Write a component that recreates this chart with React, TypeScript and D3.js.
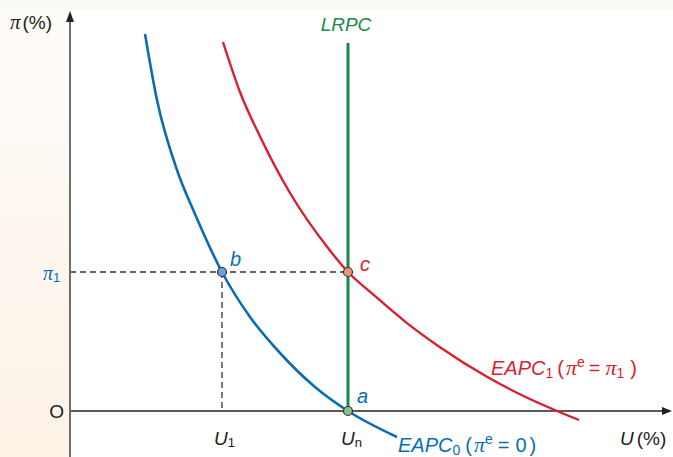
import React from "react";
import * as d3 from "d3";

// Data in abstract units (U in %, π in %)
const blueU = [1.25, 1.45, 1.783, 2.083, 2.533, 3.0, 3.5, 4.083, 4.633, 5.45];
const bluePi = [9.425, 7.775, 6.025, 4.925, 3.475, 2.35, 1.45, 0.6, 0, -0.65];
const redU = [2.55, 2.833, 3.167, 3.667, 4.3, 4.633, 5.05, 5.617, 6.167, 6.95, 7.533, 8.117, 8.483];
const redPi = [9.225, 7.975, 6.863, 5.45, 4.075, 3.475, 2.918, 2.198, 1.595, 0.855, 0.393, 0, -0.225];
const Un = 4.633;
const U1 = 2.533;
const pi1 = 3.475;
const lrpcTop = 9.2;

const W = 673;
const H = 457;
const x = d3.scaleLinear().domain([0, 10]).range([70, 670]);
const y = d3.scaleLinear().domain([0, 10]).range([411, 11]);

const BLUE = "#0a6db4";
const RED = "#d81e2f";
const GREEN = "#17894a";
const SANS = "'Liberation Sans', Arial, sans-serif";
const SERIF = "'Liberation Serif', 'Times New Roman', serif";

export default function App() {
  const line = d3
    .line<[number, number]>()
    .x((d) => x(d[0]))
    .y((d) => y(d[1]))
    .curve(d3.curveMonotoneX);
  const blue = blueU.map((u, i) => [u, bluePi[i]] as [number, number]);
  const red = redU.map((u, i) => [u, redPi[i]] as [number, number]);
  const x0 = x(0);
  const y0 = y(0);
  return (
    <svg
      width={W}
      height={H}
      style={{ position: "absolute", left: 0, top: 0, display: "block" }}
      fontFamily={SANS}
    >
      <defs>
        <linearGradient id="lg" x1="0" y1="0" x2="0" y2="1">
          <stop offset="0" stopColor="#fefcf9" />
          <stop offset="1" stopColor="#fdf2e6" />
        </linearGradient>
      </defs>
      <rect x={0} y={0} width={W} height={H} fill="#ffffff" />
      <rect x={0} y={0} width={W} height={10} fill="#fbfaf6" />
      <rect x={0} y={10} width={x0} height={H - 10} fill="url(#lg)" />

      {/* dashed guides */}
      <line x1={x0} x2={x(Un)} y1={y(pi1)} y2={y(pi1)} stroke="#333" strokeWidth={1.3} strokeDasharray="6,4" />
      <line x1={x(U1)} x2={x(U1)} y1={y(pi1)} y2={y0} stroke="#333" strokeWidth={1.3} strokeDasharray="6,4" />

      {/* x axis */}
      <line x1={x0} x2={664} y1={y0} y2={y0} stroke="#222" strokeWidth={1.4} />
      <path d={`M${672},${y0} L${662},${y0 - 4} L${662},${y0 + 4} Z`} fill="#222" />
      {/* y axis */}
      <line x1={x0} x2={x0} y1={H} y2={20} stroke="#6e6e6e" strokeWidth={2} />
      <path d={`M${x0},${11} L${x0 - 4},${22} L${x0 + 4},${22} Z`} fill="#222" />

      {/* LRPC */}
      <line x1={x(Un)} x2={x(Un)} y1={y(lrpcTop)} y2={y0} stroke={GREEN} strokeWidth={3} />

      {/* curves */}
      <path d={line(blue) || ""} fill="none" stroke={BLUE} strokeWidth={2.6} />
      <path d={line(red) || ""} fill="none" stroke={RED} strokeWidth={2.4} />

      {/* points */}
      <circle cx={x(U1)} cy={y(pi1)} r={4.5} fill="#6b9fd6" stroke="#333" strokeWidth={1.2} />
      <circle cx={x(Un)} cy={y(pi1)} r={4.5} fill="#ef9479" stroke="#333" strokeWidth={1.2} />
      <circle cx={x(Un)} cy={y0} r={4.5} fill="#8fbe8e" stroke="#333" strokeWidth={1.2} />

      {/* point labels */}
      <text x={x(U1) + 8} y={y(pi1) - 6} fill={BLUE} fontSize={20} fontStyle="italic">b</text>
      <text x={x(Un) + 12} y={y(pi1) - 1} fill={RED} fontSize={20} fontStyle="italic">c</text>
      <text x={x(Un) + 9} y={y0 - 8} fill={BLUE} fontSize={20} fontStyle="italic">a</text>

      {/* axis labels */}
      <text x={10} y={29} fontSize={19} fill="#222">
        <tspan fontFamily={SERIF} fontStyle="italic" fontSize={21}>π</tspan>
        <tspan dx={2}>(%)</tspan>
      </text>
      <text x={346} y={31} fontSize={19} fill={GREEN} fontStyle="italic" textAnchor="middle">LRPC</text>
      <text x={64} y={418} fontSize={19} fill="#222" textAnchor="end">O</text>
      <text x={43} y={280} fill={BLUE} fontSize={20}>
        <tspan fontFamily={SERIF} fontStyle="italic">π</tspan>
        <tspan fontSize={13} dy={2}>1</tspan>
      </text>
      <text x={214} y={445} fontSize={19} fill="#222">
        <tspan fontStyle="italic">U</tspan>
        <tspan fontSize={13} dy={2}>1</tspan>
      </text>
      <text x={341} y={445} fontSize={19} fill="#222">
        <tspan fontStyle="italic">U</tspan>
        <tspan fontSize={13} dy={2}>n</tspan>
      </text>
      <text x={620} y={445} fontSize={19} fill="#222">
        <tspan fontStyle="italic">U</tspan>
        <tspan dx={3}>(%)</tspan>
      </text>

      {/* curve labels */}
      <text x={491} y={375} fontSize={20} fill={RED}>
        <tspan fontStyle="italic">EAPC</tspan>
        <tspan fontSize={14} dy={3}>1</tspan>
        <tspan dy={-3} dx={4}>(</tspan>
        <tspan fontFamily={SERIF} fontStyle="italic" fontSize={22} dx={2}>π</tspan>
        <tspan fontSize={14} dy={-8}>e</tspan>
        <tspan dy={8} dx={4}>=</tspan>
        <tspan fontFamily={SERIF} fontStyle="italic" fontSize={22} dx={5}>π</tspan>
        <tspan fontSize={14} dy={3}>1</tspan>
        <tspan dy={-3} dx={6}>)</tspan>
      </text>
      <text x={398} y={452} fontSize={20} fill={BLUE}>
        <tspan fontStyle="italic">EAPC</tspan>
        <tspan fontSize={14} dy={3}>0</tspan>
        <tspan dy={-3} dx={5}>(</tspan>
        <tspan fontFamily={SERIF} fontStyle="italic" fontSize={22} dx={2}>π</tspan>
        <tspan fontSize={14} dy={-8}>e</tspan>
        <tspan dy={8} dx={5}>=</tspan>
        <tspan dx={6}>0</tspan>
        <tspan dx={3}>)</tspan>
      </text>
    </svg>
  );
}
